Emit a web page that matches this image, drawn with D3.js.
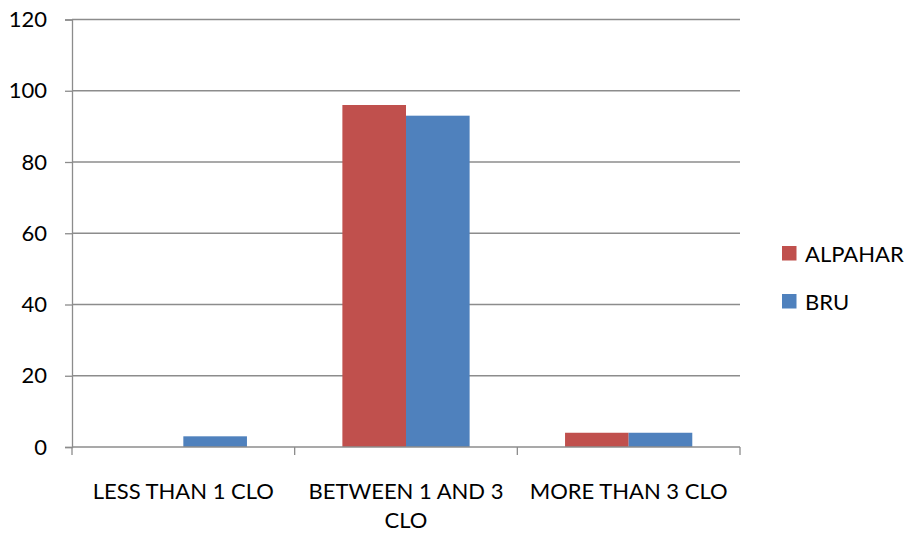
<!DOCTYPE html>
<html>
<head>
<meta charset="utf-8">
<script src="https://cdn.jsdelivr.net/npm/d3@7"></script>
<style>
  html, body { margin: 0; padding: 0; background: #fff; }
  svg text { font-family: Lato, "Open Sans", sans-serif; fill: #000; }
</style>
</head>
<body>
<svg id="chart" width="910" height="537"></svg>
<script>
// Clothing insulation categories and share of respondents (%)
const categories = ["LESS THAN 1 CLO", "BETWEEN 1 AND 3 CLO", "MORE THAN 3 CLO"];
const seriesNames = ["ALPAHAR", "BRU"];
const alpaharValues = [0, 96, 4];
const bruValues = [3, 93, 4];
const yTicks = [0, 20, 40, 60, 80, 100, 120];
const colors = ["#C0504D", "#4F81BD"];

const svg = d3.select("#chart");
const margin = { left: 72, right: 170, top: 19.5, bottom: 90 };
const W = 910, H = 537;
const x0 = margin.left, x1 = W - margin.right, yTop = margin.top, yBot = H - margin.bottom;

const x = d3.scaleBand().domain(categories).range([x0, x1]).paddingInner(0).paddingOuter(0);
const y = d3.scaleLinear().domain([0, 120]).range([yBot, yTop]);

// Excel-style cluster: gap of 1.5 bar widths split on both sides
const barW = x.bandwidth() / 3.5;
const xs = d3.scaleBand().domain(seriesNames).range([barW * 0.75, barW * 2.75]);

const gridColor = "#8c8c8c";
const fontSize = 22;

// gridlines
svg.append("g").selectAll("line").data(yTicks.filter(d => d > 0)).join("line")
  .attr("x1", x0).attr("x2", x1)
  .attr("y1", d => y(d)).attr("y2", d => y(d))
  .attr("stroke", gridColor).attr("stroke-width", 1.3);

// bars
const rows = categories.map((c, i) => ({ cat: c, vals: [alpaharValues[i], bruValues[i]] }));
const groups = svg.append("g").selectAll("g").data(rows).join("g")
  .attr("transform", d => `translate(${x(d.cat)},0)`);
groups.selectAll("rect").data(d => d.vals.map((v, j) => ({ v, s: seriesNames[j], j })))
  .join("rect")
  .attr("x", d => xs(d.s)).attr("width", xs.bandwidth())
  .attr("y", d => y(d.v)).attr("height", d => y(0) - y(d.v))
  .attr("fill", d => colors[d.j]);

// y axis
const yAxis = d3.axisLeft(y).tickValues(yTicks).tickSize(7).tickPadding(18);
const gy = svg.append("g").attr("transform", `translate(${x0},0)`).call(yAxis);
gy.select(".domain").attr("stroke", gridColor).attr("stroke-width", 1.3);
gy.selectAll(".tick line").attr("stroke", gridColor).attr("stroke-width", 1.3);
gy.selectAll(".tick text").style("font-size", fontSize + "px").style("font-family", "Lato, sans-serif").attr("fill", "#000");

// x axis with boundary ticks between categories
svg.append("line").attr("x1", x0).attr("x2", x1).attr("y1", yBot).attr("y2", yBot)
  .attr("stroke", gridColor).attr("stroke-width", 1.3);
const boundaries = categories.map(c => x(c)).concat([x1]);
svg.append("g").selectAll("line").data(boundaries).join("line")
  .attr("x1", d => d).attr("x2", d => d).attr("y1", yBot).attr("y2", yBot + 8)
  .attr("stroke", gridColor).attr("stroke-width", 1.3);

// category labels, wrapped to the band width
const labels = svg.append("g").selectAll("text").data(categories).join("text")
  .attr("x", d => x(d) + x.bandwidth() / 2)
  .attr("y", 499)
  .attr("text-anchor", "middle")
  .style("font-size", fontSize + "px");
labels.each(function (d) {
  const t = d3.select(this);
  const words = d.split(" ");
  let line = [], lineNo = 0;
  let tspan = t.append("tspan").attr("x", t.attr("x")).attr("dy", 0);
  words.forEach(w => {
    line.push(w);
    tspan.text(line.join(" "));
    if (tspan.node().getComputedTextLength() > x.bandwidth() - 6 && line.length > 1) {
      line.pop();
      tspan.text(line.join(" "));
      line = [w];
      lineNo++;
      tspan = t.append("tspan").attr("x", t.attr("x")).attr("dy", 29).text(w);
    }
  });
});

// legend
const legend = svg.append("g").selectAll("g").data(seriesNames).join("g")
  .attr("transform", (d, i) => `translate(782,${246 + i * 48})`);
legend.append("rect").attr("width", 14.5).attr("height", 14.5).attr("fill", (d, i) => colors[i]);
legend.append("text").attr("x", 23).attr("y", 15.5).style("font-size", fontSize + "px").text(d => d);
</script>
</body>
</html>
